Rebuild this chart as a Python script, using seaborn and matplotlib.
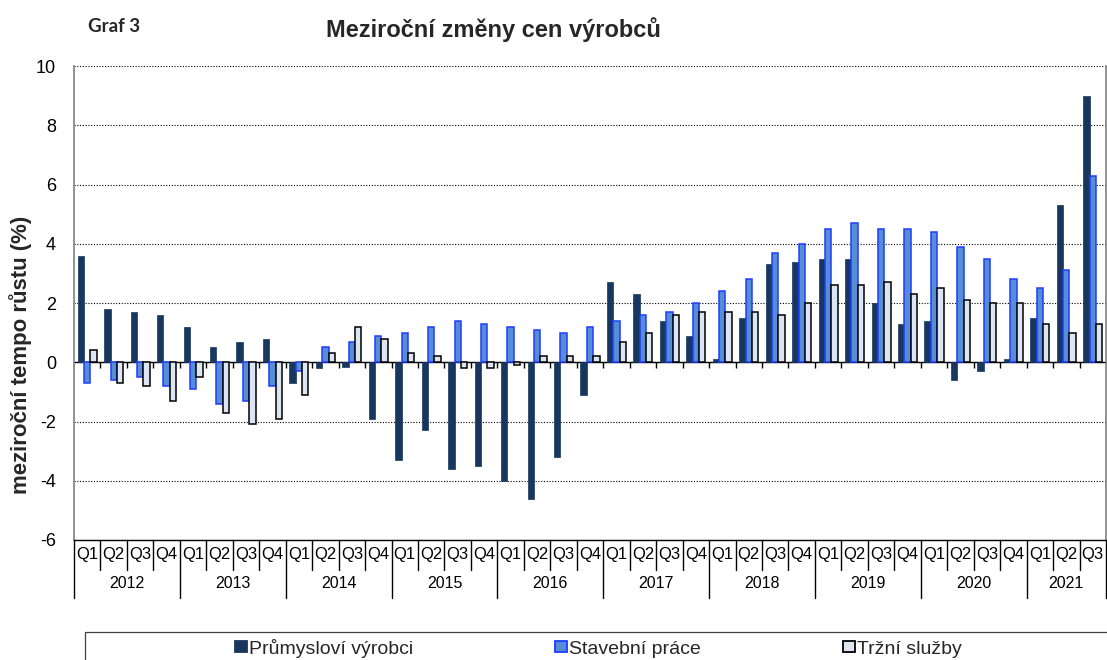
import numpy as np
import pandas as pd
import seaborn as sns
import matplotlib.pyplot as plt
from matplotlib.patches import Rectangle

# data (year-on-year change, %)
years = [str(y) for y in range(2012, 2022)]
quarters = ["Q1", "Q2", "Q3", "Q4"]
series_names = ["Průmysloví výrobci", "Stavební práce", "Tržní služby"]

prumysl = [3.6, 1.8, 1.7, 1.6,
           1.2, 0.5, 0.7, 0.8,
           -0.7, -0.2, -0.15, -1.9,
           -3.3, -2.3, -3.6, -3.5,
           -4.0, -4.6, -3.2, -1.1,
           2.7, 2.3, 1.4, 0.9,
           0.1, 1.5, 3.3, 3.4,
           3.5, 3.5, 2.0, 1.3,
           1.4, -0.6, -0.3, 0.1,
           1.5, 5.3, 9.0]
stavebni = [-0.7, -0.6, -0.5, -0.8,
            -0.9, -1.4, -1.3, -0.8,
            -0.3, 0.5, 0.7, 0.9,
            1.0, 1.2, 1.4, 1.3,
            1.2, 1.1, 1.0, 1.2,
            1.4, 1.6, 1.7, 2.0,
            2.4, 2.8, 3.7, 4.0,
            4.5, 4.7, 4.5, 4.5,
            4.4, 3.9, 3.5, 2.8,
            2.5, 3.1, 6.3]
trzni = [0.4, -0.7, -0.8, -1.3,
         -0.5, -1.7, -2.1, -1.9,
         -1.1, 0.3, 1.2, 0.8,
         0.3, 0.2, -0.2, -0.2,
         -0.1, 0.2, 0.2, 0.2,
         0.7, 1.0, 1.6, 1.7,
         1.7, 1.7, 1.6, 2.0,
         2.6, 2.6, 2.7, 2.3,
         2.5, 2.1, 2.0, 2.0,
         1.3, 1.0, 1.3]

periods = [(y, q) for y in years for q in quarters][:len(prumysl)]
keys = [y + q for y, q in periods]

df = pd.DataFrame({
    "obdobi": keys * 3,
    "rada": np.repeat(series_names, len(keys)),
    "hodnota": prumysl + stavebni + trzni,
})

fills = ["#17375E", "#558ED5", "#DCE6F2"]
edges = ["#17375E", "#1F3CFF", "#000000"]

sns.set_theme(style="white")
plt.rcParams["font.family"] = ["Liberation Sans", "DejaVu Sans"]
plt.rcParams["axes.unicode_minus"] = False

fig = plt.figure(figsize=(11.07, 6.6), dpi=100)
ax = fig.add_axes([74 / 1107, 120 / 660, 1032 / 1107, 474 / 660])

sns.barplot(data=df, x="obdobi", y="hodnota", hue="rada", order=keys,
            hue_order=series_names, palette=fills, width=0.72,
            errorbar=None, ax=ax, saturation=1)

for cont, ec in zip(ax.containers, edges):
    for bar in cont:
        bar.set_edgecolor(ec)
        bar.set_linewidth(1.1 if ec != edges[0] else 0.5)

handles, labels = ax.get_legend_handles_labels()
ax.get_legend().remove()
for h, fc, ec in zip(handles, fills, edges):
    h.set_facecolor(fc)
    h.set_edgecolor(ec)
    h.set_linewidth(1.3)

n = len(keys)
ax.set_xlim(-0.5, n - 0.5)
ax.set_ylim(-6, 10)
ax.set_yticks(range(-6, 11, 2))
ax.set_xticks([])
ax.set_xlabel("")
ax.set_ylabel("")
ax.tick_params(axis="y", length=0, pad=13, labelsize=13, colors="black")
ax.yaxis.grid(True, linestyle=(0, (1, 1.5)), color="black", linewidth=0.8)
ax.set_axisbelow(True)

ax.spines["top"].set_visible(False)
for s in ["left", "right"]:
    ax.spines[s].set_color("#808080")
    ax.spines[s].set_linewidth(1.2)
ax.spines["bottom"].set_color("black")
ax.spines["bottom"].set_linewidth(1.0)

# zero line with small ticks between categories
zero = ax.secondary_xaxis(6 / 16)
zero.set_xticks(np.arange(0.5, n - 0.5, 1))
zero.set_xticklabels([])
zero.tick_params(axis="x", direction="out", length=4, width=1, color="black")
zero.spines["bottom"].set_color("black")
zero.spines["bottom"].set_linewidth(1.0)

# category table below the plot
trans = ax.get_xaxis_transform()
q_row = -30 / 474
y_row = -58 / 474
for i, (y, q) in enumerate(periods):
    ax.text(i, -15 / 474, q, transform=trans, ha="center", va="center",
            fontsize=12, color="black")
    bottom = y_row if q == "Q1" else q_row
    ax.plot([i - 0.5, i - 0.5], [0, bottom], transform=trans, color="black",
            lw=1.0, clip_on=False)
ax.plot([n - 0.5, n - 0.5], [0, y_row], transform=trans, color="black",
        lw=1.0, clip_on=False)
for k, y in enumerate(years):
    idx = [i for i, p in enumerate(periods) if p[0] == y]
    ax.text(np.mean(idx), -44 / 474, y, transform=trans, ha="center",
            va="center", fontsize=11.5, color="black")

fig.text(21 / 1107, 1 - 355 / 660, "meziroční tempo růstu (%)", rotation=90,
         ha="center", va="center", fontsize=16, fontweight="bold")
fig.text(493 / 1107, 1 - 30 / 660, "Meziroční změny cen výrobců",
         ha="center", va="center", fontsize=17, fontweight="bold")
fig.text(88 / 1107, 1 - 27 / 660, "Graf 3", ha="left", va="center",
         fontsize=13.5, family=["Lato", "DejaVu Sans"], fontweight="bold")

fig.patches.append(Rectangle((85 / 1107, -0.2), 1.0, 0.2 + 28 / 660,
                             transform=fig.transFigure, fill=False,
                             edgecolor="#404040", linewidth=0.9))
fig.legend(handles, labels, loc="center left", bbox_to_anchor=(235 / 1107, 12 / 660),
           ncol=3, frameon=False, fontsize=14, handlelength=0.6,
           handleheight=0.55, handletextpad=0.12, columnspacing=7.3,
           borderpad=0, borderaxespad=0)

fig.savefig("out.png", dpi=100)
